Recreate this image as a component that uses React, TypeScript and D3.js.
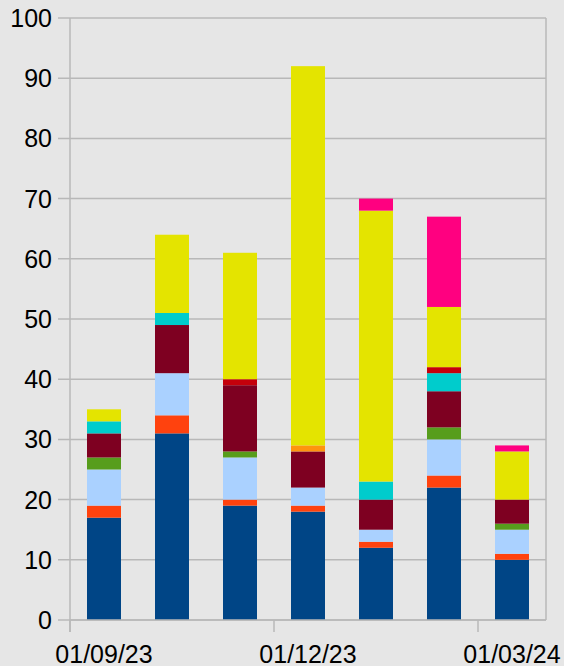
import * as d3 from 'd3';

const months = ['01/09/23', '01/10/23', '01/11/23', '01/12/23', '01/01/24', '01/02/24', '01/03/24'];
const seriesNames = ['s1', 's2', 's3', 's4', 's5', 's6', 's7', 's8', 's9', 's10'];
const seriesColors = ['#004586', '#ff420e', '#aad1ff', '#579d1c', '#7e0021', '#00cccc', '#c5000b', '#ff950e', '#e4e400', '#ff0080'];

// values per month, bottom to top
const s1 = [17, 31, 19, 18, 12, 22, 10];
const s2 = [2, 3, 1, 1, 1, 2, 1];
const s3 = [6, 7, 7, 3, 2, 6, 4];
const s4 = [2, 0, 1, 0, 0, 2, 1];
const s5 = [4, 8, 11, 6, 5, 6, 4];
const s6 = [2, 2, 0, 0, 3, 3, 0];
const s7 = [0, 0, 1, 0, 0, 1, 0];
const s8 = [0, 0, 0, 1, 0, 0, 0];
const s9 = [2, 13, 21, 63, 45, 10, 8];
const s10 = [0, 0, 0, 0, 2, 15, 1];

const yTicks = [0, 10, 20, 30, 40, 50, 60, 70, 80, 90, 100];
const xTickLabels = ['01/09/23', '01/12/23', '01/03/24'];

const W = 564;
const H = 666;
const left = 70;
const right = 546;
const top = 18;
const bottom = 620;
const font = 'Liberation Sans, Arial, sans-serif';

export default function App() {
  const all = [s1, s2, s3, s4, s5, s6, s7, s8, s9, s10];
  const rows = months.map((m, i) => {
    const r: Record<string, any> = { month: m };
    seriesNames.forEach((n, k) => (r[n] = all[k][i]));
    return r;
  });
  const stacked = d3.stack<any>().keys(seriesNames)(rows);

  const x = d3.scaleBand().domain(months).range([left, right]).paddingInner(0.5).paddingOuter(0.25);
  const y = d3.scaleLinear().domain([0, 100]).range([bottom, top]);
  const step = x.step();
  const bandStart = (m: string) => left + months.indexOf(m) * ((right - left) / months.length);
  void step;

  return (
    <svg width={W} height={H} style={{ position: 'absolute', left: 0, top: 0, background: '#e6e6e6' }}>
      <rect x={0} y={0} width={W} height={H} fill="#e6e6e6" />
      {yTicks.map(t => (
        <g key={t}>
          <line x1={left - 12} x2={right} y1={y(t)} y2={y(t)} stroke="#b8b8b8" strokeWidth={1.5} />
          <text x={52} y={y(t)} textAnchor="end" dominantBaseline="central" fontFamily={font} fontSize={25} fill="#000">
            {t}
          </text>
        </g>
      ))}
      <line x1={left} x2={left} y1={top} y2={bottom + 12} stroke="#b8b8b8" strokeWidth={1.5} />
      <line x1={right} x2={right} y1={top} y2={bottom} stroke="#b8b8b8" strokeWidth={1.5} />
      {stacked.map((s, k) => (
        <g key={s.key} fill={seriesColors[k]}>
          {s.map((d, i) =>
            d[1] - d[0] > 0 ? (
              <rect
                key={i}
                x={x(months[i])}
                width={x.bandwidth()}
                y={y(d[1])}
                height={y(d[0]) - y(d[1])}
              />
            ) : null
          )}
        </g>
      ))}
      {xTickLabels.map(l => (
        <g key={l}>
          <line x1={bandStart(l)} x2={bandStart(l)} y1={bottom} y2={bottom + 12} stroke="#b8b8b8" strokeWidth={1.5} />
          <text
            x={(x(l) ?? 0) + x.bandwidth() / 2}
            y={654}
            textAnchor="middle"
            dominantBaseline="central"
            fontFamily={font}
            fontSize={25}
            fill="#000"
          >
            {l}
          </text>
        </g>
      ))}
      <line x1={left} x2={right} y1={bottom} y2={bottom} stroke="#b8b8b8" strokeWidth={1.5} />
    </svg>
  );
}
